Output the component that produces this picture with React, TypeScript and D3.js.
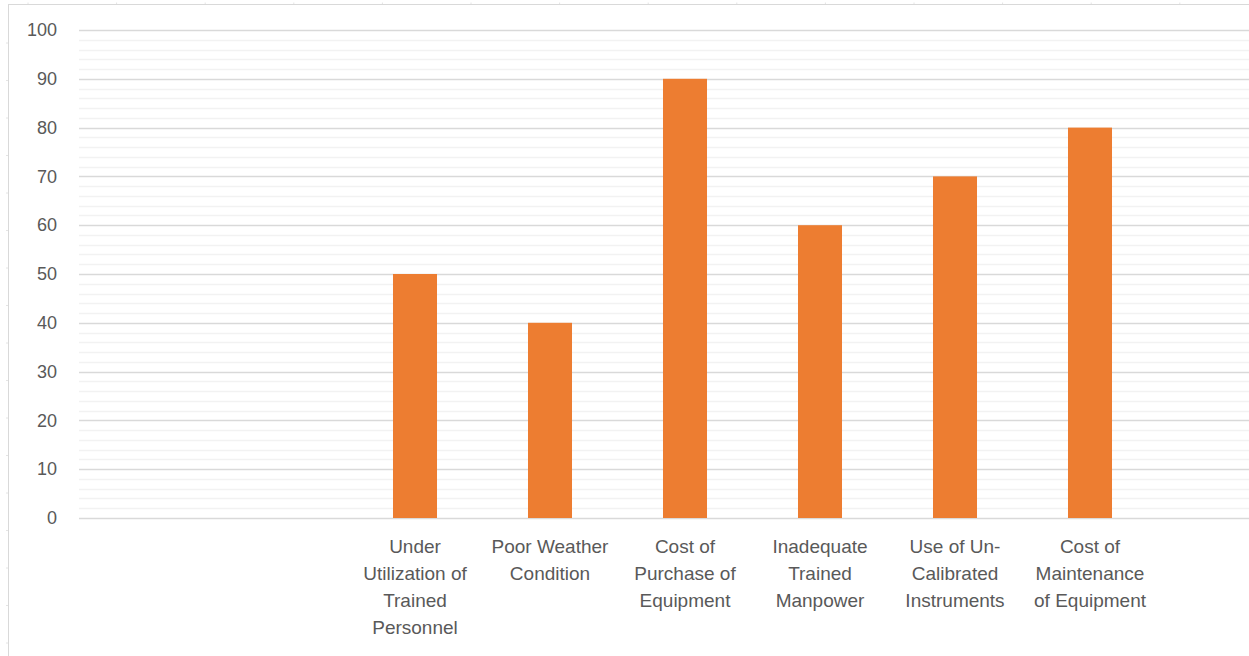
import { useEffect, useRef } from 'react';
import * as d3 from 'd3';

// chart data (first two and last slot are empty in the source)
const categories = ['', ' ', 'Under Utilization of Trained Personnel', 'Poor Weather Condition',
  'Cost of Purchase of Equipment', 'Inadequate Trained Manpower',
  'Use of Un-Calibrated Instruments', 'Cost of Maintenance of Equipment', '  '];
const values: (number | null)[] = [null, null, 50, 40, 90, 60, 70, 80, null];
const labelLines: string[][] = [[], [], ['Under', 'Utilization of', 'Trained', 'Personnel'],
  ['Poor Weather', 'Condition'], ['Cost of', 'Purchase of', 'Equipment'],
  ['Inadequate', 'Trained', 'Manpower'], ['Use of Un-', 'Calibrated', 'Instruments'],
  ['Cost of', 'Maintenance', 'of Equipment'], []];
const yTicks = [0, 10, 20, 30, 40, 50, 60, 70, 80, 90, 100];

const [width, height] = [1249, 656];
const [left, top, bottom, slot] = [79, 30, 518, 135];
const font = '"Liberation Sans", Arial, sans-serif';

function App() {
  const node = useRef<SVGSVGElement>(null);
  useEffect(() => {
    if (!node.current) return;
    const svg = d3.select(node.current);
    svg.selectAll('*').remove();

    // page frame with faint ruler-like stubs
    const frame = svg.append('g').attr('stroke', '#d9d9d9');
    frame.append('line').attr('x1', 8).attr('x2', width).attr('y1', 4.5).attr('y2', 4.5);
    frame.append('line').attr('x1', 8.5).attr('x2', 8.5).attr('y1', 4).attr('y2', height);
    d3.range(28, width, 88.6).forEach(x => {
      frame.append('line').attr('x1', x).attr('x2', x).attr('y1', 2.5).attr('y2', 4)
        .attr('stroke', '#e4e4e4');
    });
    d3.range(43, height, 37.5).forEach(y => {
      frame.append('line').attr('x1', 6).attr('x2', 8).attr('y1', y).attr('y2', y)
        .attr('stroke', '#e4e4e4');
    });

    const x = d3.scaleBand<string>()
      .domain(categories)
      .range([left - 1.5, left - 1.5 + slot * categories.length])
      .paddingInner(0.674)
      .paddingOuter(0.337);

    const y = d3.scaleLinear().domain([0, 100]).range([bottom, top]);

    // minor gridlines every 2 units
    svg.append('g').selectAll('line')
      .data(d3.range(2, 100, 2).filter(v => v % 10 !== 0))
      .enter().append('line')
      .attr('x1', left).attr('x2', width)
      .attr('y1', d => Math.round(y(d)) + 0.5).attr('y2', d => Math.round(y(d)) + 0.5)
      .attr('stroke', '#f2f2f2').attr('stroke-width', 1.5);

    // major gridlines
    svg.append('g').selectAll('line')
      .data(yTicks)
      .enter().append('line')
      .attr('x1', left).attr('x2', width)
      .attr('y1', d => Math.round(y(d)) + 0.5).attr('y2', d => Math.round(y(d)) + 0.5)
      .attr('stroke', '#d9d9d9').attr('stroke-width', 1.5);

    const yAxis = svg.append('g')
      .attr('transform', `translate(${left - 14},0)`)
      .call(d3.axisLeft(y).tickValues(yTicks).tickSize(0).tickPadding(8));
    yAxis.select('.domain').remove();
    yAxis.selectAll('text')
      .attr('fill', '#595959').attr('font-size', 18).attr('font-family', font);

    const bars = categories.map((c, i) => ({ c, v: values[i] })).filter(d => d.v !== null);
    svg.append('g').selectAll('rect')
      .data(bars)
      .enter().append('rect')
      .attr('x', d => x(d.c)!)
      .attr('width', x.bandwidth())
      .attr('y', d => y(d.v as number))
      .attr('height', d => bottom - y(d.v as number))
      .attr('fill', '#ed7d31');

    // wrapped category labels
    const labels = svg.append('g')
      .attr('fill', '#595959').attr('font-size', 19).attr('font-family', font)
      .attr('text-anchor', 'middle');
    categories.forEach((c, i) => {
      const cx = x(c)! + x.bandwidth() / 2;
      const t = labels.append('text').attr('x', cx).attr('y', 553);
      labelLines[i].forEach((line, j) => {
        t.append('tspan').attr('x', cx).attr('dy', j === 0 ? 0 : 27).text(line);
      });
    });
  }, [node]);

  return (
    <div style={{ position: 'absolute', left: 0, top: 0, background: '#fff' }}>
      <svg ref={node} width={width} height={height} style={{ display: 'block' }}></svg>
    </div>
  );
}

export default App;
